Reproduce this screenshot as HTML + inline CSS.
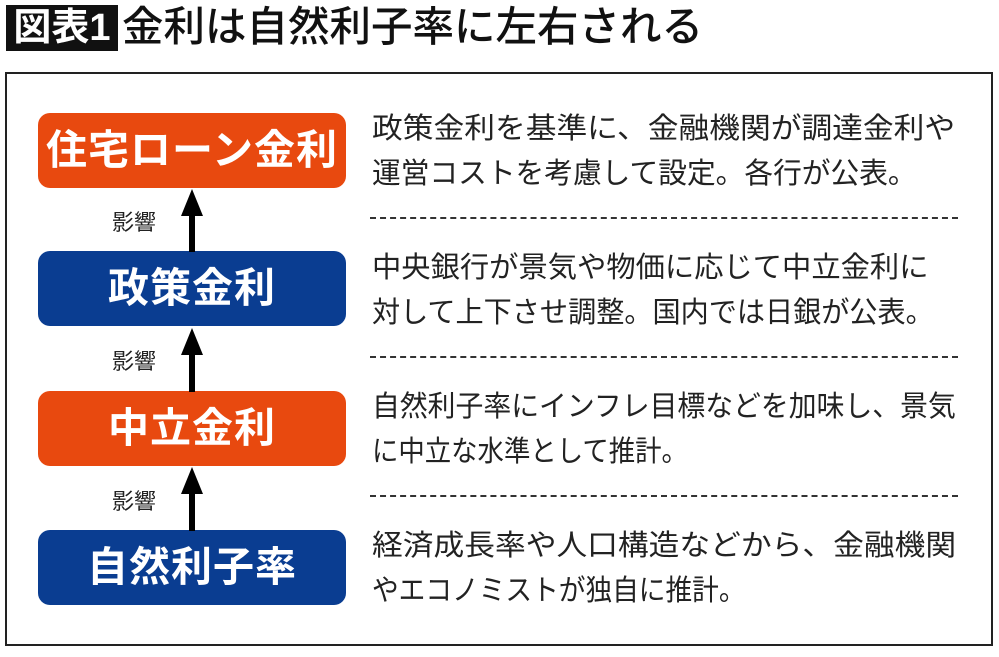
<!DOCTYPE html>
<html><head><meta charset="utf-8"><style>
body{margin:0;width:999px;height:657px;background:#fff;position:relative;overflow:hidden;font-family:"Liberation Sans","Noto Sans CJK JP",sans-serif;}
.a{position:absolute;}
.tb{left:6px;top:5px;width:112px;height:46px;background:#111;color:#fff;font-size:38px;line-height:46px;text-align:center;font-weight:bold;}
.tt{left:122px;top:1px;font-size:41.5px;line-height:52px;color:#111;white-space:nowrap;font-weight:500;}
.frame{left:5px;top:72px;width:984px;height:570px;border:2px solid #222;}
.box{left:38px;width:308px;height:75px;border-radius:12px;color:#fff;font-weight:bold;font-size:41px;line-height:75px;text-align:center;letter-spacing:1px;}
.o{background:#e8490f}.b{background:#0a3d91}
.t{left:372px;font-size:29px;line-height:45px;height:45px;color:#222;white-space:nowrap;transform-origin:0 50%;}
.dash{left:370px;width:588px;border-top:2px dashed #333;height:0;}
.lbl{left:112px;font-size:22px;color:#222;}
</style></head><body>
<div class="a tb">図表1</div>
<div class="a tt">金利は自然利子率に左右される</div>
<div class="a frame"></div>

<div class="a box o" style="top:113px">住宅ローン金利</div>
<div class="a box b" style="top:251px">政策金利</div>
<div class="a box o" style="top:391px">中立金利</div>
<div class="a box b" style="top:530px">自然利子率</div>

<svg class="a" style="left:0;top:0" width="999" height="657">
<g fill="#000">
<rect x="189" y="210" width="6" height="42"/><polygon points="192,189 181,216 203,216"/>
<rect x="189" y="350" width="6" height="42"/><polygon points="192,328 181,355 203,355"/>
<rect x="189" y="489" width="6" height="42"/><polygon points="192,467 181,494 203,494"/>
</g></svg>
<div class="a lbl" style="top:205px">影響</div>
<div class="a lbl" style="top:344px">影響</div>
<div class="a lbl" style="top:484px">影響</div>

<div class="a t" style="top:107px;transform:scaleX(1.06)">政策金利を基準に、金融機関が調達金利や</div>
<div class="a t" style="top:152px;transform:scaleX(0.99)">運営コストを考慮して設定。各行が公表。</div>
<div class="a dash" style="top:217px"></div>
<div class="a t" style="top:246px;transform:scaleX(1.01)">中央銀行が景気や物価に応じて中立金利に</div>
<div class="a t" style="top:291px;transform:scaleX(0.97)">対して上下させ調整。国内では日銀が公表。</div>
<div class="a dash" style="top:356px"></div>
<div class="a t" style="top:385px;transform:scaleX(0.96)">自然利子率にインフレ目標などを加味し、景気</div>
<div class="a t" style="top:430px;transform:scaleX(0.91)">に中立な水準として推計。</div>
<div class="a dash" style="top:495px"></div>
<div class="a t" style="top:524px;transform:scaleX(1.06)">経済成長率や人口構造などから、金融機関</div>
<div class="a t" style="top:569px;transform:scaleX(0.92)">やエコノミストが独自に推計。</div>
</body></html>
